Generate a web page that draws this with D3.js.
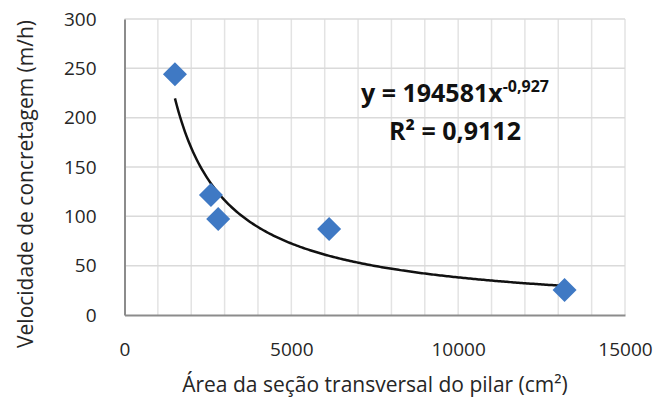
<!DOCTYPE html>
<html>
<head>
<meta charset="utf-8">
<script src="https://cdn.jsdelivr.net/npm/d3@7"></script>
<style>
  body { margin: 0; background: #fff; }
  svg text { font-family: "Open Sans", "Noto Sans", sans-serif; fill: #262626; }
</style>
</head>
<body>
<div id="chart"></div>
<script>
// data
const areas = [1512, 2590, 2808, 6132, 13189];      // cm²
const speeds = [244, 121.6, 97.3, 87.2, 25.3];      // m/h
const xTicks = [0, 5000, 10000, 15000];
const yTicks = [0, 50, 100, 150, 200, 250, 300];
// power trendline shown on the chart: y = a * x^b
const trendA = 194581;
const trendB = -0.927;
const eqText = "y = 194581x";
const eqExp = "-0,927";
const r2Text = "R² = 0,9112";

const width = 669, height = 399;
const margin = {top: 19, right: 44, bottom: 84, left: 124.5};
const w = width - margin.left - margin.right;
const h = height - margin.top - margin.bottom;

const svg = d3.select("#chart").append("svg")
    .attr("width", width)
    .attr("height", height);

const g = svg.append("g")
    .attr("transform", `translate(${margin.left},${margin.top})`);

const x = d3.scaleLinear().domain([0, 15000]).range([0, w]);
const y = d3.scaleLinear().domain([0, 300]).range([h, 0]);

// gridlines: vertical every 1000, horizontal every 50
g.append("g")
  .selectAll("line")
  .data(d3.range(1000, 15001, 1000))
  .join("line")
    .attr("x1", d => x(d)).attr("x2", d => x(d))
    .attr("y1", 0).attr("y2", h)
    .attr("stroke", "#e3e3e3")
    .attr("stroke-width", 1.5);

g.append("g")
  .selectAll("line")
  .data(yTicks.slice(1))
  .join("line")
    .attr("x1", 0).attr("x2", w)
    .attr("y1", d => y(d)).attr("y2", d => y(d))
    .attr("stroke", "#dadada")
    .attr("stroke-width", 1.5);

// axes
const xAxis = g.append("g")
    .attr("transform", `translate(0,${h})`)
    .call(d3.axisBottom(x).tickValues(xTicks).tickFormat(d3.format("d")).tickSize(0).tickPadding(28));
const yAxis = g.append("g")
    .call(d3.axisLeft(y).tickValues(yTicks).tickSize(0).tickPadding(28));

[xAxis, yAxis].forEach(a => {
  a.select(".domain").attr("stroke", "#8c8c8c").attr("stroke-width", 2);
  a.selectAll("text").style("font-size", "19px").style("fill", "#262626");
});

// trendline from the displayed equation
const xs = d3.range(areas[0], areas[areas.length - 1], 50).concat([areas[areas.length - 1]]);
g.append("path")
    .datum(xs)
    .attr("fill", "none")
    .attr("stroke", "#111")
    .attr("stroke-width", 2.5)
    .attr("d", d3.line().x(d => x(d)).y(d => y(trendA * Math.pow(d, trendB))));

// diamond markers
g.selectAll(".pt")
  .data(areas.map((a, i) => [a, speeds[i]]))
  .join("path")
    .attr("class", "pt")
    .attr("transform", d => `translate(${x(d[0])},${y(d[1])})`)
    .attr("d", "M0,-12L12,0L0,12L-12,0Z")
    .attr("fill", "#3f79c4");

// equation label
const eq = svg.append("text")
    .attr("x", 455).attr("y", 102)
    .attr("text-anchor", "middle")
    .style("font-size", "25px")
    .style("font-weight", "bold")
    .style("fill", "#111");
eq.append("tspan").text(eqText);
eq.append("tspan").attr("dy", -10).style("font-size", "16px").text(eqExp);

svg.append("text")
    .attr("x", 455).attr("y", 140)
    .attr("text-anchor", "middle")
    .style("font-size", "25px")
    .style("font-weight", "bold")
    .style("fill", "#111")
    .text(r2Text);

// axis titles
svg.append("text")
    .attr("x", 375)
    .attr("y", 392)
    .attr("text-anchor", "middle")
    .style("font-size", "21px")
    .text("Área da seção transversal do pilar (cm²)");

svg.append("text")
    .attr("transform", `translate(33,184) rotate(-90)`)
    .attr("text-anchor", "middle")
    .style("font-size", "21px")
    .text("Velocidade de concretagem (m/h)");
</script>
</body>
</html>
